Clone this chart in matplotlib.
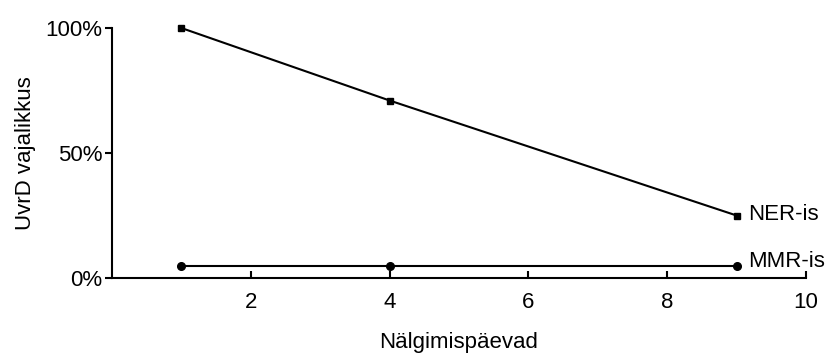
import matplotlib.pyplot as plt
from matplotlib.ticker import PercentFormatter

plt.rcParams['font.family'] = ['Liberation Sans', 'DejaVu Sans']

# Data
days = [1, 4, 9]
ner_is = [100, 71, 25]
mmr_is = [5, 5, 5]

fig = plt.figure(figsize=(8.34, 3.56), dpi=100)
ax = fig.add_axes([0.1343, 0.2191, 0.8321, 0.7022])

ax.plot(days, ner_is, color='black', lw=1.5, marker='s', ms=5, clip_on=False)
ax.plot(days, mmr_is, color='black', lw=1.5, marker='o', ms=5.5, clip_on=False)

ax.text(days[-1] + 0.17, ner_is[-1] + 0.3, 'NER-is', fontsize=16, va='center', ha='left')
ax.text(days[-1] + 0.17, mmr_is[-1] + 1.8, 'MMR-is', fontsize=16, va='center', ha='left')

ax.set_xlim(0, 10)
ax.set_ylim(0, 100)
ax.set_xticks([2, 4, 6, 8, 10])
ax.set_yticks([0, 50, 100])
ax.yaxis.set_major_formatter(PercentFormatter(decimals=0))

for s in ['top', 'right']:
    ax.spines[s].set_visible(False)
for s in ['left', 'bottom']:
    ax.spines[s].set_linewidth(1.5)

ax.tick_params(axis='x', direction='in', length=5, width=1.5, labelsize=16, pad=10)
ax.tick_params(axis='y', direction='out', length=5, width=1.5, labelsize=16, pad=2)

ax.set_xlabel('Nälgimispäevad', fontsize=16, labelpad=14)
ax.set_ylabel('UvrD vajalikkus', fontsize=16, labelpad=7)

fig.savefig('out.png', dpi=100)
